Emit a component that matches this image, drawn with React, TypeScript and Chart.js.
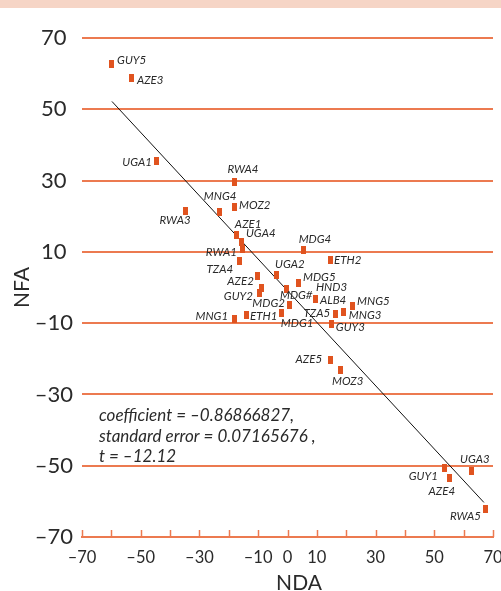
import React, { useEffect, useRef } from 'react';
import { Chart, registerables } from 'chart.js';

Chart.register(...registerables);

// ---- Data ----
const countries = [
  'GUY5', 'AZE3', 'UGA1', 'RWA4', 'MNG4', 'MOZ2', 'RWA3', 'AZE1', 'UGA4', 'RWA1',
  'TZA4', 'MDG4', 'ETH2', 'UGA2', 'AZE2', 'MDG5', 'HND3', 'MDG#', 'GUY2', 'ALB4',
  'MDG1', 'MNG5', 'MDG2', 'TZA5', 'MNG3', 'ETH1', 'MNG1', 'GUY3', 'AZE5', 'MOZ3',
  'GUY1', 'AZE4', 'UGA3', 'RWA5',
];
const ndaValues = [
  -60.1, -53.0, -44.5, -17.9, -23.3, -18.2, -34.9, -17.5, -15.5, -15.2,
  -16.5, 5.6, 14.5, -3.9, -10.1, 3.6, -0.2, -8.7, -9.4, 9.7,
  0.8, 22.0, -1.9, 16.2, 19.2, -14.1, -18.2, 15.1, 14.5, 17.9,
  53.6, 55.3, 62.8, 67.6,
];
const nfaValues = [
  62.6, 58.9, 35.4, 29.5, 21.1, 22.7, 21.6, 14.6, 12.9, 10.7,
  7.3, 10.4, 7.6, 3.4, 3.1, 1.2, -0.3, 0.0, -1.6, -3.3,
  -4.9, -5.3, -7.1, -7.3, -7.0, -7.8, -8.9, -10.3, -20.4, -23.2,
  -50.7, -53.5, -51.6, -62.2,
];
const fitNda = [-59.8, 66.9];
const fitNfa = [52.2, -60.3];
const xTickValues = [-70, -60, -50, -40, -30, -20, -10, 0, 10, 20, 30, 40, 50, 60, 70];
const xTickLabels = [-70, -50, -30, -10, 0, 10, 30, 50, 70];
const yTickValues = [-70, -50, -30, -10, 10, 30, 50, 70];
const xTitle = 'NDA';
const yTitle = 'NFA';
const annotationLines = [
  'coefficient = \u20130.86866827,',
  'standard error = 0.07165676 ,',
  't = \u201312.12',
];

// ---- Label placement (layout only): [align, dx, dy] ----
const labelPlacement: [CanvasTextAlign, number, number][] = [
  ['left', 6, -4], ['left', 5, 3], ['right', -5, 1], ['center', 8, -13], ['center', 1, -16],
  ['left', 5, -1], ['center', -10, 10], ['center', 12, -11], ['left', 4, -8], ['right', -6, 3],
  ['right', -6, 8], ['center', 11, -11], ['left', 4, 0], ['left', -1, -11], ['right', -4, 5],
  ['left', 5, -6], ['left', 29, -1], ['left', 18, 8], ['right', -7, 3], ['left', 4, 1],
  ['left', -9, 18], ['left', 5, -5], ['right', 3, -10], ['right', -5, 0], ['left', 5, 3],
  ['left', 4, 1], ['right', -6, -3], ['left', 4, 3], ['right', -8, -1], ['left', -8, 11],
  ['right', -7, 8], ['center', -8, 13], ['center', 3, -12], ['right', -5, 7],
];

const ORANGE = '#ec7a50';
const MARK = '#e0531f';
const TEXT = '#2a2a2a';
const FONT = 'Lato, "Open Sans", sans-serif';

const fmt = (v: number) => (v < 0 ? '\u2013' + Math.abs(v) : String(v));

export default function App() {
  const ref = useRef<HTMLCanvasElement | null>(null);

  useEffect(() => {
    document.body.style.margin = '0';
    document.body.style.overflow = 'hidden';
    const canvas = ref.current;
    if (!canvas) return;

    const mark = document.createElement('canvas');
    mark.width = 5;
    mark.height = 8;
    const mctx = mark.getContext('2d')!;
    mctx.fillStyle = MARK;
    mctx.fillRect(0, 0, 5, 8);

    const decor = {
      id: 'decor',
      beforeDraw(chart: any) {
        const ctx = chart.ctx;
        ctx.save();
        ctx.fillStyle = '#f6d5c6';
        ctx.fillRect(0, 0, chart.width, 8);
        ctx.restore();
      },
      afterDraw(chart: any) {
        const ctx = chart.ctx;
        const xs = chart.scales.x;
        const area = chart.chartArea;
        ctx.save();
        // inward tick marks on x axis
        ctx.strokeStyle = ORANGE;
        ctx.lineWidth = 1.5;
        xs.ticks.forEach((t: any) => {
          const px = Math.round(xs.getPixelForValue(t.value)) + 0.5;
          ctx.beginPath();
          ctx.moveTo(px, area.bottom);
          ctx.lineTo(px, area.bottom - 7);
          ctx.stroke();
        });
        // point labels
        const meta = chart.getDatasetMeta(0);
        ctx.fillStyle = TEXT;
        ctx.font = `italic 11.5px ${FONT}`;
        ctx.textBaseline = 'middle';
        meta.data.forEach((el: any, i: number) => {
          const [align, dx, dy] = labelPlacement[i];
          ctx.textAlign = align;
          ctx.fillText(countries[i], el.x + dx, el.y + dy);
        });
        // annotation
        ctx.font = `italic 17px ${FONT}`;
        ctx.textAlign = 'left';
        ctx.textBaseline = 'alphabetic';
        const baselines = [421, 442, 462];
        annotationLines.forEach((line, i) => ctx.fillText(line, 99, baselines[i]));
        // axis titles
        ctx.font = `21px ${FONT}`;
        ctx.textAlign = 'center';
        ctx.textBaseline = 'middle';
        ctx.fillText(xTitle, 299, 583);
        ctx.translate(22.5, (area.top + area.bottom) / 2);
        ctx.rotate(-Math.PI / 2);
        ctx.fillText(yTitle, 0, 0);
        ctx.restore();
      },
    };

    const chart = new Chart(canvas, {
      type: 'scatter',
      data: {
        datasets: [
          {
            label: 'countries',
            data: ndaValues.map((x, i) => ({ x, y: nfaValues[i] })),
            pointStyle: mark as any,
            pointRadius: 4,
            backgroundColor: MARK,
            borderColor: MARK,
          },
          {
            type: 'line' as any,
            label: 'fit',
            data: fitNda.map((x, i) => ({ x, y: fitNfa[i] })),
            borderColor: '#111',
            borderWidth: 1,
            pointRadius: 0,
            fill: false,
          } as any,
        ],
      },
      options: {
        animation: false,
        responsive: false,
        devicePixelRatio: 1,
        layout: { padding: { top: 38, right: 8, left: 0, bottom: 0 } },
        plugins: { legend: { display: false }, tooltip: { enabled: false } },
        scales: {
          x: {
            type: 'linear',
            min: -70,
            max: 70,
            afterBuildTicks: (s: any) => {
              s.ticks = xTickValues.map((v) => ({ value: v }));
            },
            afterFit: (s: any) => {
              s.height = 54;
              s.paddingLeft = 0;
              s.paddingRight = 0;
            },
            grid: { drawOnChartArea: false, drawTicks: false },
            border: { display: true, color: ORANGE, width: 2 },
            ticks: {
              autoSkip: false,
              maxRotation: 0,
              padding: 11,
              color: TEXT,
              font: { family: FONT, size: 16.5 },
              callback: (v: any) => (xTickLabels.includes(Number(v)) ? fmt(Number(v)) : ''),
            },
          },
          y: {
            type: 'linear',
            min: -70,
            max: 70,
            afterBuildTicks: (s: any) => {
              s.ticks = yTickValues.map((v) => ({ value: v }));
            },
            afterFit: (s: any) => {
              s.width = 82;
              s.paddingTop = 0;
              s.paddingBottom = 0;
            },
            grid: { color: ORANGE, lineWidth: 2, drawTicks: false },
            border: { display: false },
            ticks: {
              crossAlign: 'center',
              padding: 9,
              color: TEXT,
              font: { family: FONT, size: 22 },
              callback: (v: any) => fmt(Number(v)),
            },
          },
        },
      },
      plugins: [decor],
    });

    return () => chart.destroy();
  }, []);

  return (
    <div style={{ width: 501, height: 591 }}>
      <canvas ref={ref} width={501} height={591} style={{ display: 'block' }} />
    </div>
  );
}
